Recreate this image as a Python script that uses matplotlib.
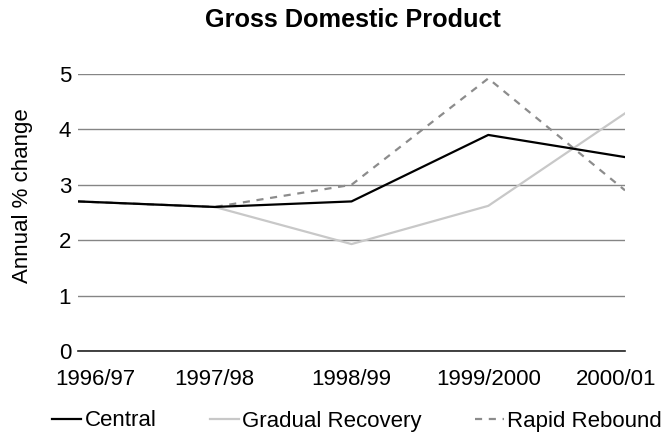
import matplotlib
matplotlib.use("Agg")
import matplotlib.pyplot as plt
import matplotlib.transforms as mtransforms

plt.rcParams["font.family"] = ["Liberation Sans", "DejaVu Sans"]

YEARS = ["1996/97", "1997/98", "1998/99", "1999/2000", "2000/01"]
CENTRAL = [2.7, 2.6, 2.7, 3.9, 3.5]
GRADUAL = [2.7, 2.6, 1.93, 2.62, 4.29]
RAPID = [2.7, 2.6, 3.0, 4.92, 2.9]

W, H = 667, 434
fig = plt.figure(figsize=(W / 100, H / 100), dpi=100)
ax = fig.add_axes([78 / W, 1 - 351 / H, (625 - 78) / W, (351 - 74) / H])

x = list(range(len(YEARS)))
ax.plot(x, GRADUAL, color="#c8c8c8", lw=1.6, label="Gradual Recovery", zorder=3)
ax.plot(x, RAPID, color="#8c8c8c", lw=1.6, dashes=(3.2, 3.0),
        label="Rapid Rebound", zorder=4)
ax.plot(x, CENTRAL, color="black", lw=1.6, label="Central", zorder=5)

ax.set_xlim(0, len(YEARS) - 1)
ax.set_ylim(0, 5)
ax.set_yticks(range(6))
ax.yaxis.grid(True, color="#858585", lw=1.0)
ax.set_axisbelow(True)
for side in ["top", "right", "left"]:
    ax.spines[side].set_visible(False)
ax.spines["bottom"].set_color("#222222")
ax.spines["bottom"].set_linewidth(1.2)

ax.set_xticks(x)
ax.set_xticklabels(YEARS)
ax.tick_params(axis="both", length=0, labelsize=16)
ax.tick_params(axis="y", pad=5)
ax.tick_params(axis="x", pad=13)

# pull the outer category labels inward
labels = ax.get_xticklabels()
labels[0].set_transform(labels[0].get_transform() +
                        mtransforms.ScaledTranslation(17 / 100, 0, fig.dpi_scale_trans))
labels[-1].set_transform(labels[-1].get_transform() +
                         mtransforms.ScaledTranslation(-9 / 100, 0, fig.dpi_scale_trans))

ax.set_ylabel("Annual % change", fontsize=16)
ax.yaxis.set_label_coords((33 - 78) / 547, (351 - 196) / 277)

fig.text(353 / W, 1 - 20 / H, "Gross Domestic Product", fontsize=18.2,
         fontweight="bold", ha="center", va="center")

handles, names = ax.get_legend_handles_labels()
order = [2, 0, 1]
fig.legend([handles[i] for i in order], [names[i] for i in order],
           loc="center", bbox_to_anchor=(357 / W, 1 - 421 / H), ncol=3,
           frameon=False, fontsize=16, handlelength=1.3, handletextpad=0.15,
           columnspacing=2.4, borderaxespad=0, borderpad=0)

plt.savefig("out.png", dpi=100)
